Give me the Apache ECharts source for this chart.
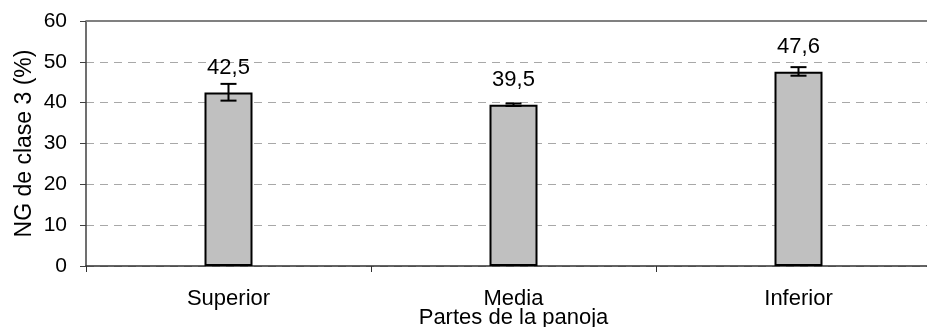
<!DOCTYPE html>
<html>
<head>
<meta charset="utf-8">
<script src="https://cdn.jsdelivr.net/npm/echarts@6/dist/echarts.min.js"></script>
<style>html,body{margin:0;padding:0;background:#fff}#c{width:927px;height:327px}</style>
</head>
<body>
<div id="c"></div>
<script>
var categories = ['Superior', 'Media', 'Inferior'];
var values = [42.5, 39.5, 47.6];
var errLow = [40.5, 39.2, 46.6];
var errHigh = [44.6, 39.8, 48.7];
var valueLabels = ['42,5', '39,5', '47,6'];
var yTicks = [0, 10, 20, 30, 40, 50, 60];

var FONT = 'Liberation Sans, Arial, sans-serif';
var chart = echarts.init(document.getElementById('c'), null, {renderer: 'canvas'});
var errData = categories.map(function (c, i) { return [i, errLow[i], errHigh[i]]; });

chart.setOption({
  animation: false,
  backgroundColor: '#ffffff',
  grid: {left: 86, top: 21, width: 855, height: 245, show: false, containLabel: false, outerBoundsMode: 'none'},
  xAxis: {
    type: 'category',
    data: categories,
    boundaryGap: true,
    axisLine: {lineStyle: {color: '#303030', width: 1.5}},
    axisTick: {show: true, length: 6, lineStyle: {color: '#303030'}},
    axisLabel: {color: '#000', fontFamily: FONT, fontSize: 22, margin: 22},
    name: 'Partes de la panoja',
    nameLocation: 'middle',
    nameGap: 41,
    nameMoveOverlap: false,
    nameTextStyle: {color: '#000', fontFamily: FONT, fontSize: 22}
  },
  yAxis: {
    type: 'value',
    min: yTicks[0],
    max: yTicks[yTicks.length - 1],
    interval: 10,
    axisLine: {show: true, lineStyle: {color: '#404040', width: 1.5}},
    axisTick: {show: true, length: 6, lineStyle: {color: '#404040'}},
    axisLabel: {color: '#000', fontFamily: FONT, fontSize: 21, margin: 19},
    splitLine: {show: true, lineStyle: {color: '#a8a8a8', type: [8, 6], width: 1}},
    name: 'NG de clase 3 (%)',
    nameLocation: 'middle',
    nameGap: 50,
    nameMoveOverlap: false,
    nameRotate: 90,
    nameTextStyle: {color: '#000', fontFamily: FONT, fontSize: 23}
  },
  series: [
    {
      type: 'bar',
      data: values,
      barWidth: 48,
      itemStyle: {color: '#c0c0c0', borderColor: '#000', borderWidth: 2},
      label: {
        show: true, position: 'top', distance: 14,
        color: '#000', fontFamily: FONT, fontSize: 22,
        formatter: function (p) { return valueLabels[p.dataIndex]; }
      },
      z: 2
    },
    {
      type: 'custom',
      data: errData,
      z: 3,
      renderItem: function (params, api) {
        var x = api.value(0);
        var lo = api.coord([x, api.value(1)]);
        var hi = api.coord([x, api.value(2)]);
        var hw = 8;
        var st = {stroke: '#000', lineWidth: 2};
        return {
          type: 'group',
          children: [
            {type: 'line', shape: {x1: lo[0], y1: lo[1], x2: hi[0], y2: hi[1]}, style: st},
            {type: 'line', shape: {x1: lo[0] - hw, y1: lo[1], x2: lo[0] + hw, y2: lo[1]}, style: st},
            {type: 'line', shape: {x1: hi[0] - hw, y1: hi[1], x2: hi[0] + hw, y2: hi[1]}, style: st}
          ]
        };
      }
    }
  ],
  graphic: [
    {type: 'line', shape: {x1: 86, y1: 21, x2: 927, y2: 21}, style: {stroke: '#808080', lineWidth: 2}, z: 10}
  ]
});
</script>
</body>
</html>
